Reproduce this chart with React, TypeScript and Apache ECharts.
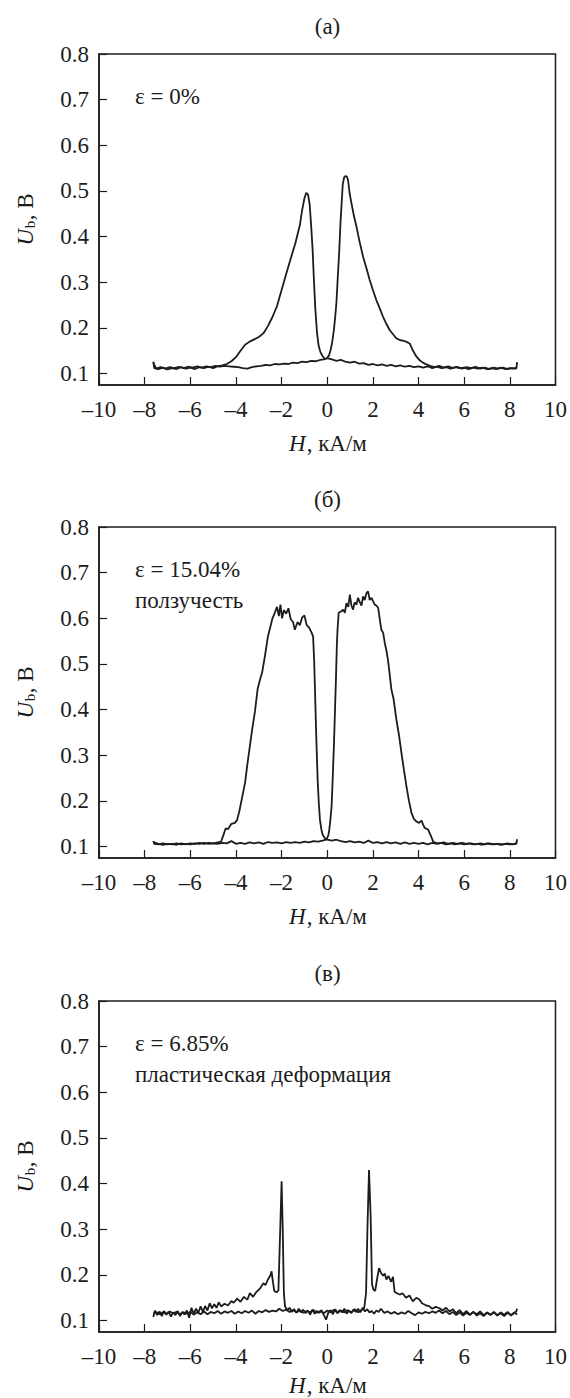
import React, { useEffect, useRef } from "react";
import * as echarts from "echarts";

// ---------- data (H, kA/m ; U_b, V) ----------
const titles = ["(а)", "(б)", "(в)"];
const notes = [["ε = 0%"], ["ε = 15.04%", "ползучесть"], ["ε = 6.85%", "пластическая деформация"]];
const xTicks = [-10, -8, -6, -4, -2, 0, 2, 4, 6, 8, 10];
const yTicks = [0.1, 0.2, 0.3, 0.4, 0.5, 0.6, 0.7, 0.8];

const aForward: [number, number][] = [[-7.62,0.126],[-7.58,0.112],[-7.4,0.110],[-7.2,0.113],[-7.0,0.109],[-6.8,0.112],[-6.6,0.110],[-6.4,0.114],[-6.2,0.111],[-6.0,0.113],[-5.8,0.110],[-5.6,0.114],[-5.4,0.112],[-5.2,0.115],[-5.0,0.112],[-4.8,0.116],[-4.6,0.118],[-4.4,0.121],[-4.2,0.127],[-4.0,0.136],[-3.8,0.150],[-3.6,0.163],[-3.4,0.170],[-3.2,0.175],[-3.0,0.180],[-2.8,0.188],[-2.6,0.204],[-2.4,0.224],[-2.2,0.248],[-2.0,0.283],[-1.8,0.318],[-1.6,0.352],[-1.4,0.385],[-1.3,0.405],[-1.2,0.425],[-1.1,0.458],[-1.0,0.484],[-0.92,0.496],[-0.84,0.492],[-0.77,0.470],[-0.7,0.420],[-0.64,0.370],[-0.58,0.300],[-0.52,0.240],[-0.45,0.190],[-0.38,0.162],[-0.3,0.147],[-0.2,0.138],[-0.1,0.132],[0.0,0.134],[0.2,0.131],[0.4,0.128],[0.6,0.130],[0.8,0.126],[1.0,0.124],[1.2,0.126],[1.4,0.122],[1.6,0.123],[1.8,0.119],[2.0,0.121],[2.2,0.118],[2.4,0.120],[2.6,0.117],[2.8,0.119],[3.0,0.116],[3.2,0.118],[3.4,0.115],[3.6,0.117],[3.8,0.114],[4.0,0.116],[4.2,0.113],[4.4,0.116],[4.6,0.112],[4.8,0.115],[5.0,0.112],[5.2,0.114],[5.4,0.111],[5.6,0.114],[5.8,0.112],[6.0,0.113],[6.2,0.110],[6.4,0.113],[6.6,0.111],[6.8,0.113],[7.0,0.110],[7.2,0.112],[7.4,0.110],[7.6,0.113],[7.8,0.110],[8.0,0.112],[8.2,0.111],[8.32,0.114]];
const aBackward: [number, number][] = [[-7.62,0.124],[-7.5,0.111],[-7.3,0.114],[-7.1,0.111],[-6.9,0.114],[-6.7,0.112],[-6.5,0.115],[-6.3,0.112],[-6.1,0.115],[-5.9,0.113],[-5.7,0.116],[-5.5,0.113],[-5.3,0.116],[-5.1,0.114],[-4.9,0.117],[-4.7,0.115],[-4.5,0.117],[-4.3,0.116],[-4.1,0.115],[-3.9,0.114],[-3.7,0.112],[-3.5,0.111],[-3.3,0.114],[-3.1,0.116],[-2.9,0.117],[-2.7,0.119],[-2.5,0.118],[-2.3,0.121],[-2.1,0.120],[-1.9,0.122],[-1.7,0.121],[-1.5,0.124],[-1.3,0.123],[-1.1,0.126],[-0.9,0.125],[-0.7,0.128],[-0.5,0.127],[-0.3,0.130],[-0.15,0.131],[-0.03,0.133],[0.08,0.140],[0.15,0.152],[0.22,0.170],[0.29,0.195],[0.35,0.225],[0.4,0.254],[0.46,0.310],[0.52,0.363],[0.58,0.430],[0.63,0.473],[0.68,0.515],[0.74,0.530],[0.8,0.533],[0.86,0.531],[0.91,0.524],[0.98,0.495],[1.06,0.473],[1.17,0.445],[1.28,0.422],[1.42,0.388],[1.57,0.356],[1.72,0.330],[1.86,0.305],[2.0,0.283],[2.15,0.261],[2.3,0.243],[2.44,0.225],[2.6,0.208],[2.74,0.195],[2.9,0.185],[3.03,0.177],[3.2,0.173],[3.32,0.172],[3.45,0.170],[3.61,0.166],[3.76,0.150],[3.91,0.137],[4.05,0.129],[4.19,0.124],[4.35,0.120],[4.5,0.117],[4.7,0.114],[4.9,0.117],[5.1,0.113],[5.3,0.116],[5.5,0.112],[5.7,0.115],[5.9,0.111],[6.1,0.114],[6.3,0.112],[6.5,0.115],[6.7,0.111],[6.9,0.113],[7.1,0.110],[7.3,0.113],[7.5,0.111],[7.7,0.113],[7.9,0.110],[8.1,0.112],[8.28,0.111],[8.32,0.125]];

const bForward: [number, number][] = [[-7.62,0.112],[-7.58,0.106],[-7.4,0.105],[-7.2,0.107],[-7.0,0.105],[-6.8,0.106],[-6.6,0.104],[-6.4,0.107],[-6.2,0.105],[-6.0,0.107],[-5.8,0.106],[-5.6,0.108],[-5.4,0.106],[-5.2,0.108],[-5.0,0.107],[-4.8,0.109],[-4.65,0.111],[-4.55,0.125],[-4.45,0.140],[-4.35,0.138],[-4.2,0.150],[-4.05,0.152],[-3.95,0.158],[-3.85,0.178],[-3.7,0.215],[-3.6,0.240],[-3.5,0.280],[-3.39,0.320],[-3.28,0.360],[-3.17,0.395],[-3.05,0.445],[-2.95,0.465],[-2.85,0.482],[-2.73,0.517],[-2.6,0.560],[-2.5,0.580],[-2.4,0.600],[-2.3,0.612],[-2.2,0.625],[-2.12,0.605],[-2.05,0.630],[-1.98,0.600],[-1.9,0.618],[-1.8,0.610],[-1.7,0.622],[-1.6,0.598],[-1.5,0.592],[-1.42,0.575],[-1.3,0.592],[-1.2,0.585],[-1.1,0.602],[-1.0,0.606],[-0.9,0.585],[-0.8,0.580],[-0.68,0.568],[-0.62,0.560],[-0.57,0.502],[-0.53,0.430],[-0.49,0.356],[-0.45,0.290],[-0.42,0.246],[-0.37,0.195],[-0.32,0.159],[-0.26,0.138],[-0.2,0.126],[-0.1,0.118],[0.0,0.115],[0.2,0.113],[0.4,0.115],[0.6,0.112],[0.8,0.110],[1.0,0.112],[1.2,0.109],[1.4,0.111],[1.6,0.108],[1.8,0.113],[2.0,0.108],[2.2,0.110],[2.4,0.107],[2.6,0.110],[2.8,0.107],[3.0,0.109],[3.2,0.106],[3.4,0.109],[3.6,0.106],[3.8,0.108],[4.0,0.106],[4.2,0.108],[4.4,0.105],[4.6,0.108],[4.8,0.106],[5.0,0.108],[5.2,0.105],[5.4,0.107],[5.6,0.105],[5.8,0.107],[6.0,0.105],[6.2,0.107],[6.4,0.105],[6.6,0.106],[6.8,0.104],[7.0,0.107],[7.2,0.105],[7.4,0.106],[7.6,0.104],[7.8,0.106],[8.0,0.105],[8.2,0.106],[8.32,0.108]];
const bBackward: [number, number][] = [[-7.62,0.110],[-7.4,0.106],[-7.2,0.104],[-7.0,0.106],[-6.8,0.105],[-6.6,0.107],[-6.4,0.105],[-6.2,0.106],[-6.0,0.105],[-5.8,0.107],[-5.6,0.106],[-5.4,0.108],[-5.2,0.106],[-5.0,0.107],[-4.8,0.106],[-4.6,0.108],[-4.4,0.107],[-4.2,0.112],[-4.0,0.106],[-3.8,0.108],[-3.6,0.106],[-3.4,0.109],[-3.2,0.107],[-3.0,0.109],[-2.8,0.106],[-2.6,0.110],[-2.4,0.108],[-2.2,0.109],[-2.0,0.107],[-1.8,0.110],[-1.6,0.108],[-1.4,0.110],[-1.2,0.108],[-1.0,0.111],[-0.8,0.109],[-0.6,0.112],[-0.4,0.111],[-0.2,0.113],[-0.03,0.116],[0.05,0.125],[0.09,0.137],[0.14,0.160],[0.19,0.188],[0.24,0.250],[0.29,0.319],[0.34,0.400],[0.38,0.465],[0.42,0.540],[0.45,0.575],[0.5,0.612],[0.6,0.615],[0.7,0.619],[0.77,0.612],[0.84,0.633],[0.92,0.625],[0.99,0.652],[1.06,0.628],[1.13,0.619],[1.2,0.635],[1.28,0.630],[1.35,0.645],[1.42,0.636],[1.5,0.628],[1.57,0.648],[1.64,0.640],[1.72,0.655],[1.79,0.659],[1.86,0.640],[1.94,0.645],[2.0,0.638],[2.08,0.630],[2.15,0.628],[2.23,0.623],[2.3,0.598],[2.37,0.575],[2.45,0.568],[2.52,0.546],[2.59,0.530],[2.66,0.509],[2.73,0.480],[2.81,0.444],[2.9,0.425],[3.03,0.378],[3.14,0.345],[3.25,0.305],[3.36,0.268],[3.47,0.232],[3.58,0.200],[3.69,0.174],[3.8,0.160],[3.91,0.155],[4.02,0.152],[4.13,0.157],[4.2,0.148],[4.27,0.141],[4.35,0.139],[4.42,0.137],[4.5,0.128],[4.57,0.120],[4.64,0.111],[4.75,0.108],[4.9,0.107],[5.1,0.109],[5.3,0.106],[5.5,0.108],[5.7,0.106],[5.9,0.108],[6.1,0.106],[6.3,0.107],[6.5,0.105],[6.7,0.107],[6.9,0.105],[7.1,0.107],[7.3,0.105],[7.5,0.106],[7.7,0.105],[7.9,0.107],[8.1,0.105],[8.28,0.106],[8.32,0.116]];

const cForward: [number, number][] = [[-7.62,0.108],[-7.55,0.122],[-7.45,0.112],[-7.35,0.120],[-7.25,0.110],[-7.15,0.121],[-7.05,0.113],[-6.95,0.119],[-6.85,0.109],[-6.75,0.118],[-6.65,0.112],[-6.55,0.121],[-6.45,0.110],[-6.35,0.119],[-6.25,0.113],[-6.15,0.122],[-6.05,0.106],[-5.95,0.128],[-5.85,0.115],[-5.75,0.126],[-5.65,0.117],[-5.55,0.131],[-5.45,0.119],[-5.35,0.132],[-5.25,0.122],[-5.15,0.138],[-5.05,0.127],[-4.95,0.136],[-4.85,0.128],[-4.75,0.140],[-4.65,0.131],[-4.5,0.137],[-4.35,0.133],[-4.2,0.143],[-4.1,0.139],[-3.95,0.148],[-3.8,0.141],[-3.65,0.152],[-3.5,0.146],[-3.39,0.160],[-3.25,0.152],[-3.1,0.163],[-2.95,0.170],[-2.8,0.182],[-2.7,0.178],[-2.6,0.190],[-2.5,0.198],[-2.44,0.208],[-2.38,0.185],[-2.32,0.165],[-2.22,0.162],[-2.14,0.166],[-2.06,0.300],[-2.0,0.405],[-1.95,0.300],[-1.9,0.160],[-1.85,0.131],[-1.75,0.123],[-1.65,0.128],[-1.55,0.119],[-1.45,0.125],[-1.35,0.117],[-1.25,0.126],[-1.15,0.118],[-1.05,0.124],[-0.95,0.116],[-0.85,0.122],[-0.75,0.113],[-0.65,0.124],[-0.55,0.115],[-0.45,0.121],[-0.35,0.117],[-0.25,0.123],[-0.15,0.112],[-0.05,0.102],[0.05,0.118],[0.15,0.123],[0.25,0.114],[0.35,0.125],[0.45,0.116],[0.55,0.123],[0.65,0.118],[0.75,0.126],[0.85,0.115],[0.95,0.122],[1.05,0.117],[1.15,0.124],[1.25,0.119],[1.35,0.126],[1.45,0.118],[1.55,0.128],[1.65,0.120],[1.75,0.125],[1.85,0.118],[1.95,0.121],[2.05,0.115],[2.15,0.122],[2.25,0.119],[2.35,0.126],[2.5,0.117],[2.65,0.120],[2.8,0.115],[2.95,0.119],[3.1,0.114],[3.25,0.118],[3.4,0.115],[3.55,0.121],[3.7,0.116],[3.85,0.112],[4.0,0.118],[4.15,0.115],[4.3,0.119],[4.45,0.116],[4.6,0.120],[4.75,0.117],[4.9,0.122],[5.05,0.116],[5.2,0.121],[5.35,0.114],[5.5,0.119],[5.65,0.112],[5.8,0.118],[5.95,0.111],[6.1,0.117],[6.25,0.112],[6.4,0.119],[6.55,0.111],[6.7,0.116],[6.85,0.110],[7.0,0.117],[7.15,0.112],[7.3,0.118],[7.45,0.111],[7.6,0.116],[7.75,0.110],[7.9,0.117],[8.05,0.112],[8.2,0.118],[8.32,0.113]];
const cBackward: [number, number][] = [[-7.62,0.115],[-7.5,0.119],[-7.35,0.114],[-7.2,0.118],[-7.05,0.115],[-6.9,0.120],[-6.75,0.116],[-6.6,0.119],[-6.45,0.114],[-6.3,0.118],[-6.15,0.115],[-6.0,0.119],[-5.85,0.113],[-5.7,0.118],[-5.55,0.114],[-5.4,0.120],[-5.25,0.114],[-5.1,0.119],[-4.95,0.116],[-4.8,0.121],[-4.65,0.115],[-4.5,0.120],[-4.35,0.117],[-4.2,0.121],[-4.05,0.115],[-3.9,0.120],[-3.75,0.116],[-3.6,0.121],[-3.45,0.117],[-3.3,0.122],[-3.15,0.115],[-3.0,0.121],[-2.85,0.118],[-2.7,0.123],[-2.55,0.119],[-2.4,0.122],[-2.25,0.120],[-2.1,0.126],[-1.95,0.121],[-1.8,0.124],[-1.65,0.119],[-1.5,0.123],[-1.35,0.118],[-1.2,0.122],[-1.05,0.117],[-0.9,0.121],[-0.75,0.118],[-0.6,0.123],[-0.45,0.117],[-0.3,0.121],[-0.15,0.116],[0.0,0.122],[0.15,0.118],[0.3,0.124],[0.45,0.117],[0.6,0.122],[0.75,0.118],[0.9,0.123],[1.05,0.117],[1.2,0.125],[1.35,0.118],[1.5,0.123],[1.62,0.128],[1.7,0.160],[1.76,0.300],[1.83,0.430],[1.9,0.330],[1.96,0.180],[2.02,0.168],[2.1,0.165],[2.18,0.190],[2.27,0.215],[2.35,0.205],[2.45,0.198],[2.52,0.203],[2.59,0.190],[2.68,0.198],[2.8,0.185],[2.88,0.196],[2.95,0.163],[3.05,0.160],[3.17,0.157],[3.3,0.160],[3.45,0.150],[3.6,0.155],[3.75,0.142],[3.9,0.150],[4.04,0.146],[4.15,0.138],[4.3,0.134],[4.48,0.131],[4.6,0.126],[4.75,0.130],[4.92,0.127],[5.05,0.122],[5.2,0.128],[5.36,0.120],[5.5,0.125],[5.65,0.116],[5.8,0.123],[5.95,0.114],[6.1,0.121],[6.25,0.113],[6.4,0.119],[6.55,0.114],[6.7,0.120],[6.85,0.112],[7.0,0.118],[7.15,0.113],[7.3,0.119],[7.45,0.112],[7.6,0.118],[7.75,0.113],[7.9,0.119],[8.05,0.111],[8.2,0.117],[8.28,0.120],[8.32,0.126]];

const panelSeries = [[aForward, aBackward], [bForward, bBackward], [cForward, cBackward]];

// ---------- layout ----------
const FONT = "serif";
const INK = "#1c1c1c";
const LEFT = 99;
const PW = 457;
const PH = 331;
const TOPS = [54, 527, 1001];
const NAME_OFF = [58, 58, 53];
const FS = 23;

function measure(text: string, size: number, italic: boolean): number {
  const ctx = document.createElement("canvas").getContext("2d");
  if (!ctx) return text.length * size * 0.5;
  ctx.font = `${italic ? "italic " : ""}${size}px Liberation Serif`;
  return ctx.measureText(text).width;
}

function txt(x: number, y: number, text: string, opts: any = {}) {
  const style: any = {
    text, fontFamily: FONT, fontSize: opts.size || FS,
    fill: INK, textAlign: opts.align || "left", textVerticalAlign: "middle",
  };
  if (opts.italic) style.fontStyle = "italic";
  return { type: "text", x, y, style };
}

export default function App() {
  const ref = useRef<HTMLDivElement>(null);
  useEffect(() => {
    document.body.style.margin = "0";
    const chart = echarts.init(ref.current!, undefined, { renderer: "svg" });
    const grids: any[] = [];
    const xAxes: any[] = [];
    const yAxes: any[] = [];
    const series: any[] = [];
    const graphic: any[] = [];
    const fmtX = (v: number) => (v < 0 ? "\u2013" + Math.abs(v) : String(v));

    const wH = measure("H", FS, true);
    const wHrest = measure(", кА/м", FS, false);
    const wU = measure("U", FS, true);
    const wb = measure("b", 15, false);
    const wUrest = measure(", В", FS, false);

    TOPS.forEach((top, i) => {
      grids.push({ left: LEFT, top, width: PW, height: PH, show: true, borderColor: INK, borderWidth: 1.5 });
      xAxes.push({
        type: "value", gridIndex: i, min: -10, max: 10, interval: 2,
        axisLine: { show: true, onZero: false, lineStyle: { color: INK, width: 1.5 } },
        axisTick: { show: true, inside: true, length: 8, lineStyle: { color: INK, width: 1.2 } },
        axisLabel: { margin: 13, fontFamily: FONT, fontSize: FS, color: INK, formatter: fmtX, customValues: xTicks },
        splitLine: { show: false },
      });
      yAxes.push({
        type: "value", gridIndex: i, min: 0.075, max: 0.8,
        axisLine: { show: true, onZero: false, lineStyle: { color: INK, width: 1.5 } },
        axisTick: { show: true, inside: true, length: 8, lineStyle: { color: INK, width: 1.2 }, customValues: yTicks },
        axisLabel: { margin: 10, fontFamily: FONT, fontSize: FS, color: INK, formatter: (v: number) => v.toFixed(1), customValues: yTicks },
        splitLine: { show: false },
      });
      panelSeries[i].forEach((d) => {
        series.push({
          type: "line", xAxisIndex: i, yAxisIndex: i, data: d, showSymbol: false, symbol: "none",
          lineStyle: { color: INK, width: 1.8 }, silent: true,
        });
      });
      graphic.push(txt(LEFT + PW / 2, top - 28, titles[i], { align: "center" }));
      notes[i].forEach((t, k) => graphic.push(txt(LEFT + 36, top + 42 + k * 31, t)));
      const cx = LEFT + PW / 2;
      const startX = cx - (wH + wHrest) / 2;
      const ny = top + PH + NAME_OFF[i];
      graphic.push(txt(startX, ny, "H", { italic: true }));
      graphic.push(txt(startX + wH + 1, ny, ", кА/м"));
      const total = wU + wb + wUrest + 1;
      const s0 = -total / 2;
      graphic.push({
        type: "group", x: 25, y: top + PH / 2, rotation: Math.PI / 2,
        children: [
          txt(s0, 0, "U", { italic: true }),
          txt(s0 + wU + 0.5, 5, "b", { size: 15 }),
          txt(s0 + wU + wb + 1, 0, ", В"),
        ],
      });
    });
    chart.setOption({
      animation: false,
      grid: grids,
      xAxis: xAxes,
      yAxis: yAxes,
      series,
      graphic,
    });
    return () => chart.dispose();
  }, []);
  return <div ref={ref} style={{ position: "absolute", left: 0, top: 0, width: 570, height: 1398, background: "#fff" }} />;
}
